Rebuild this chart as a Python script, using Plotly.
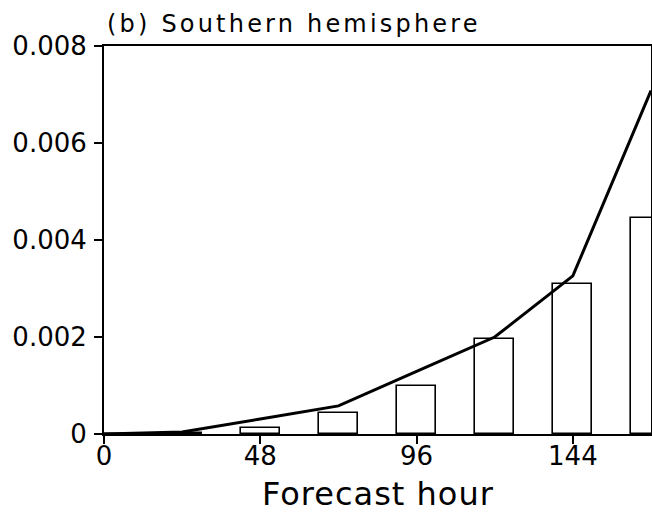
import plotly.graph_objects as go

hours = [0, 24, 48, 72, 96, 120, 144, 168]
bar_values = [0.0, 0.00002, 0.00013, 0.00043, 0.00100, 0.00195, 0.00310, 0.00445]
line_values = [0.0, 0.00004, 0.00031, 0.00058, 0.00129, 0.00200, 0.00326, 0.00708]
x_ticks = [0, 48, 96, 144]
y_ticks = [0, 0.002, 0.004, 0.006, 0.008]
y_tick_labels = ["0", "0.002", "0.004", "0.006", "0.008"]

tick_font = dict(family="DejaVu Sans", size=26, color="black")

fig = go.Figure()
fig.add_trace(go.Bar(
    x=hours, y=bar_values, width=12,
    marker=dict(color="white", line=dict(color="black", width=1.6)),
    showlegend=False,
))
fig.add_trace(go.Scatter(
    x=hours, y=line_values, mode="lines",
    line=dict(color="black", width=3),
    showlegend=False, cliponaxis=True,
))

fig.update_layout(
    width=652, height=512,
    margin=dict(l=104, r=1, t=46, b=78),
    paper_bgcolor="white", plot_bgcolor="white",
    bargap=0,
    xaxis=dict(
        range=[0, 168], tickvals=x_ticks, ticktext=[str(v) for v in x_ticks],
        ticks="outside", ticklen=8, tickwidth=1.5, tickcolor="black",
        showline=True, linecolor="black", linewidth=2, mirror=True,
        showgrid=False, zeroline=False, tickfont=tick_font, automargin=False,
        ticklabelstandoff=-10,
    ),
    yaxis=dict(
        range=[0, 0.008], tickvals=y_ticks, ticktext=y_tick_labels,
        ticks="outside", ticklen=8, tickwidth=1.5, tickcolor="black",
        showline=True, linecolor="black", linewidth=2, mirror=True,
        showgrid=False, zeroline=False, tickfont=tick_font, automargin=False,
        ticklabelstandoff=2,
    ),
    annotations=[
        dict(
            text='<span style="letter-spacing:3.2px">(b) Southern hemisphere</span>',
            xref="paper", yref="paper",
            x=0, y=1, xanchor="left", yanchor="bottom", xshift=1, yshift=6, showarrow=False,
            font=dict(family="DejaVu Sans", size=24, color="black"),
        ),
        dict(
            text='<span style="letter-spacing:1px">Forecast hour</span>',
            xref="paper", yref="paper",
            x=0.5, y=0, xanchor="center", yanchor="top", yshift=-39, showarrow=False,
            font=dict(family="DejaVu Sans", size=32, color="black"),
        ),
    ],
)

fig.write_html(
    "out.html",
    config={"displayModeBar": False},
    post_script="document.body.style.margin='0px';document.body.style.overflow='hidden';",
)
